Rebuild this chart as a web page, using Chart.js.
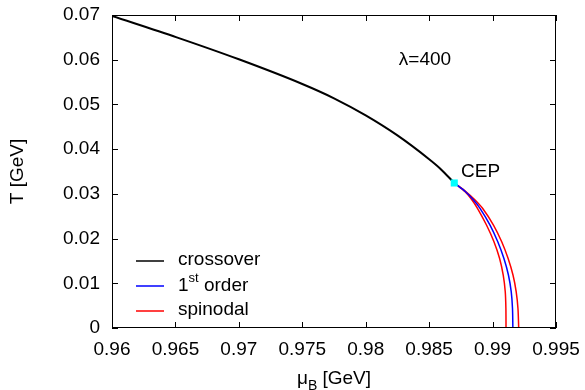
<!DOCTYPE html>
<html>
<head>
<meta charset="utf-8">
<script src="https://cdn.jsdelivr.net/npm/chart.js@4.4.0/dist/chart.umd.min.js"></script>
<style>
  html, body { margin: 0; padding: 0; background: #fff; }
  #wrap { width: 585px; height: 390px; }
</style>
</head>
<body>
<div id="wrap"><canvas id="phase" width="585" height="390"></canvas></div>
<script>
// values (mu_B and T in GeV)
const crossoverMu = [0.96, 0.9651, 0.97, 0.975, 0.9775, 0.98, 0.9825, 0.985, 0.98586, 0.98698];
const crossoverT = [0.06978, 0.065, 0.06009, 0.05457, 0.05137, 0.04755, 0.04307, 0.03775, 0.03569, 0.03243];

const branchT = [0.03243, 0.03048, 0.02863, 0.02677, 0.02303, 0.0193, 0.01559, 0.01185, 0.00812, 0.00441, 0];
const firstOrderMu = [0.98698, 0.98787, 0.9885, 0.98901, 0.9898, 0.99041, 0.99089, 0.99125, 0.99147, 0.99157, 0.9916];
const spinodalOuterMu = [0.98698, 0.98791, 0.98862, 0.98921, 0.99007, 0.99072, 0.99122, 0.99161, 0.99186, 0.992, 0.99206];
const spinodalInnerMu = [0.98698, 0.98783, 0.98838, 0.98881, 0.98952, 0.99011, 0.99055, 0.99084, 0.991, 0.99105, 0.99106];

const cepMu = [0.98698];
const cepT = [0.03243];

const xTicks = [0.96, 0.965, 0.97, 0.975, 0.98, 0.985, 0.99, 0.995];
const yTicks = [0, 0.01, 0.02, 0.03, 0.04, 0.05, 0.06, 0.07];

const FONT = '"Liberation Sans", Arial, sans-serif';

function toPoints(xs, ys) {
    return xs.map((x, i) => ({ x: x, y: ys[i] }));
}

// frame, inward ticks, labels and legend in gnuplot style
const framePlugin = {
    id: 'frame',
    afterDraw(chart) {
        const ctx = chart.ctx;
        const area = chart.chartArea;
        const xs = chart.scales.x;
        const ys = chart.scales.y;
        ctx.save();
        ctx.strokeStyle = '#000';
        ctx.lineWidth = 1;
        ctx.strokeRect(area.left + 0.5, area.top + 0.5, area.right - area.left - 1, area.bottom - area.top - 1);

        const tl = 6;
        ctx.beginPath();
        xTicks.forEach(v => {
            const px = Math.round(xs.getPixelForValue(v)) + 0.5;
            ctx.moveTo(px, area.bottom);
            ctx.lineTo(px, area.bottom - tl);
            ctx.moveTo(px, area.top);
            ctx.lineTo(px, area.top + tl);
        });
        yTicks.forEach(v => {
            const py = Math.round(ys.getPixelForValue(v)) + 0.5;
            ctx.moveTo(area.left, py);
            ctx.lineTo(area.left + tl, py);
            ctx.moveTo(area.right, py);
            ctx.lineTo(area.right - tl, py);
        });
        ctx.stroke();

        ctx.fillStyle = '#000';
        ctx.font = '19px ' + FONT;
        ctx.textBaseline = 'middle';

        // annotations
        ctx.textAlign = 'center';
        ctx.fillText('\u03bb=400', 425, 60);
        ctx.textAlign = 'left';
        ctx.fillText('CEP', 461, 172);

        // axis titles
        ctx.save();
        ctx.translate(18, (area.top + area.bottom) / 2);
        ctx.rotate(-Math.PI / 2);
        ctx.textAlign = 'center';
        ctx.fillText('T [GeV]', 0, 0);
        ctx.restore();

        const cx = (area.left + area.right) / 2;
        const muW = ctx.measureText('\u03bc').width;
        ctx.font = '14px ' + FONT;
        const bW = ctx.measureText('B').width;
        ctx.font = '19px ' + FONT;
        const restW = ctx.measureText(' [GeV]').width;
        let x0 = cx - (muW + bW + restW) / 2;
        ctx.textAlign = 'left';
        ctx.fillText('\u03bc', x0, 379);
        ctx.font = '14px ' + FONT;
        ctx.fillText('B', x0 + muW, 386);
        ctx.font = '19px ' + FONT;
        ctx.fillText(' [GeV]', x0 + muW + bW, 379);

        // legend
        const entries = [
            { color: '#000000', y: 261 },
            { color: '#0000ff', y: 286 },
            { color: '#ff0000', y: 311 }
        ];
        entries.forEach(e => {
            ctx.strokeStyle = e.color;
            ctx.lineWidth = 1.5;
            ctx.beginPath();
            ctx.moveTo(136, e.y);
            ctx.lineTo(164, e.y);
            ctx.stroke();
        });
        ctx.fillStyle = '#000';
        ctx.font = '19px ' + FONT;
        ctx.fillText('crossover', 178, 260);
        ctx.fillText('1', 178, 286);
        const oneW = ctx.measureText('1').width;
        ctx.font = '13px ' + FONT;
        ctx.fillText('st', 178 + oneW, 278);
        const stW = ctx.measureText('st').width;
        ctx.font = '19px ' + FONT;
        ctx.fillText(' order', 178 + oneW + stW, 286);
        ctx.fillText('spinodal', 178, 310);
        ctx.restore();
    }
};

const lineStyle = {
    showLine: true,
    pointRadius: 0,
    borderWidth: 1.5,
    tension: 0.3,
    fill: false
};

new Chart(document.getElementById('phase').getContext('2d'), {
    type: 'scatter',
    data: {
        datasets: [
            {
                label: 'CEP',
                data: toPoints(cepMu, cepT),
                pointStyle: 'rect',
                pointRadius: 5,
                backgroundColor: '#00ffff',
                borderColor: '#00ffff',
                borderWidth: 0,
                showLine: false
            },
            Object.assign({ label: 'crossover', data: toPoints(crossoverMu, crossoverT), borderColor: '#000000' }, lineStyle, { borderWidth: 2, cubicInterpolationMode: 'monotone' }),
            Object.assign({ label: '1st order', data: toPoints(firstOrderMu, branchT), borderColor: '#0000ff' }, lineStyle),
            Object.assign({ label: 'spinodal', data: toPoints(spinodalOuterMu, branchT), borderColor: '#ff0000' }, lineStyle),
            Object.assign({ label: 'spinodal inner', data: toPoints(spinodalInnerMu, branchT), borderColor: '#ff0000' }, lineStyle)
        ]
    },
    options: {
        responsive: false,
        animation: false,
        layout: { padding: { top: 15, right: 29, left: 0, bottom: 0 } },
        plugins: {
            legend: { display: false },
            tooltip: { enabled: false }
        },
        scales: {
            x: {
                type: 'linear',
                min: 0.96,
                max: 0.995,
                afterBuildTicks: (scale) => { scale.ticks = xTicks.map(v => ({ value: v })); },
                afterFit: (scale) => {
                    scale.height = 62;
                    scale.paddingLeft = 0;
                    scale.paddingRight = 0;
                },
                grid: { display: false, drawTicks: false },
                border: { display: false },
                ticks: {
                    color: '#000',
                    font: { family: FONT, size: 19 },
                    padding: 10,
                    maxRotation: 0,
                    autoSkip: false,
                    callback: (v) => String(Number(v.toFixed(4)))
                }
            },
            y: {
                type: 'linear',
                min: 0,
                max: 0.07,
                afterBuildTicks: (scale) => { scale.ticks = yTicks.map(v => ({ value: v })); },
                afterFit: (scale) => {
                    scale.width = 112;
                    scale.paddingTop = 0;
                    scale.paddingBottom = 0;
                },
                grid: { display: false, drawTicks: false },
                border: { display: false },
                ticks: {
                    color: '#000',
                    font: { family: FONT, size: 19 },
                    padding: 12,
                    autoSkip: false,
                    callback: (v) => String(Number(v.toFixed(3)))
                }
            }
        }
    },
    plugins: [framePlugin]
});
</script>
</body>
</html>
